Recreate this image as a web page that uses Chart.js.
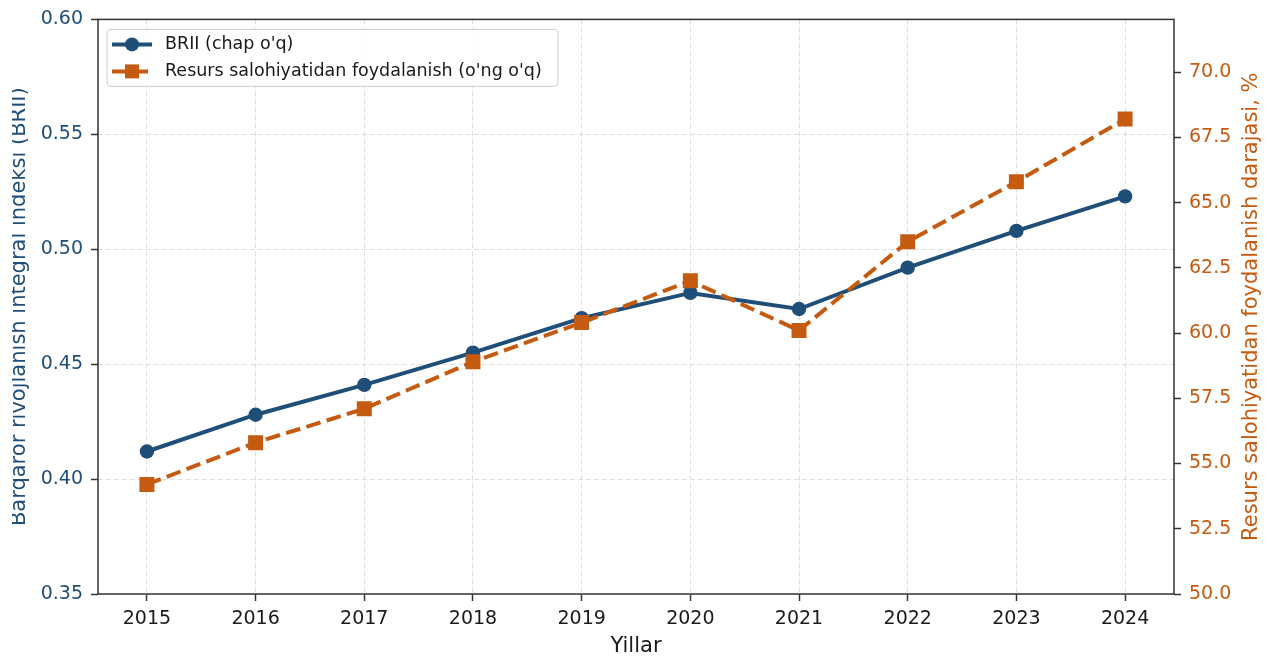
<!DOCTYPE html>
<html>
<head>
<meta charset="utf-8">
<script src="https://cdn.jsdelivr.net/npm/chart.js@4.4.1/dist/chart.umd.min.js"></script>
<style>
  body { margin: 0; background: #fff; }
  canvas { display: block; }
</style>
</head>
<body>
<canvas id="myChart" width="1268" height="657"></canvas>
<script>
// Datos
const years = [2015, 2016, 2017, 2018, 2019, 2020, 2021, 2022, 2023, 2024];
const brii = [0.412, 0.428, 0.441, 0.455, 0.470, 0.481, 0.474, 0.492, 0.508, 0.523];
const resurs = [54.2, 55.8, 57.1, 58.9, 60.4, 62.0, 60.1, 63.5, 65.8, 68.2];
const leftTicks = [0.35, 0.40, 0.45, 0.50, 0.55, 0.60];
const rightTicks = [50, 52.5, 55, 57.5, 60, 62.5, 65, 67.5, 70];

const labelBrii = "BRII (chap o'q)";
const labelResurs = "Resurs salohiyatidan foydalanish (o'ng o'q)";
const titleLeft = "Barqaror rivojlanish integral indeksi (BRII)";
const titleRight = "Resurs salohiyatidan foydalanish darajasi, %";

// Colores
const azul = "#1f4e79";
const naranja = "#c55a11";
const gris = "#dedede";
const oscuro = "#333333";
const guion = [14.8, 6.4];

Chart.defaults.font.family = "'DejaVu Sans', sans-serif";

// Marco del área del gráfico
const marcoPlugin = {
  id: "marco",
  afterDatasetsDraw(chart) {
    const { ctx, chartArea: a } = chart;
    ctx.save();
    ctx.strokeStyle = oscuro;
    ctx.lineWidth = 1.5;
    ctx.strokeRect(a.left, a.top, a.right - a.left, a.bottom - a.top);
    ctx.restore();
  },
};

// Títulos de los ejes Y (girados)
const titulosPlugin = {
  id: "titulos",
  afterDraw(chart) {
    const { ctx, chartArea: a } = chart;
    const cy = (a.top + a.bottom) / 2;
    ctx.save();
    ctx.font = "21px 'DejaVu Sans'";
    ctx.textAlign = "center";
    ctx.textBaseline = "alphabetic";

    ctx.save();
    ctx.beginPath();
    ctx.rect(12, 0, 60, chart.height);
    ctx.clip();
    ctx.translate(25, cy);
    ctx.rotate(-Math.PI / 2);
    ctx.fillStyle = azul;
    ctx.fillText(titleLeft, 0, 0);
    ctx.restore();

    ctx.translate(1257, cy);
    ctx.rotate(-Math.PI / 2);
    ctx.fillStyle = naranja;
    ctx.fillText(titleRight, 0, 0);
    ctx.restore();
  },
};

// Leyenda dentro del gráfico
const leyendaPlugin = {
  id: "leyenda",
  afterDraw(chart) {
    const { ctx, chartArea: a } = chart;
    const x = a.left + 9;
    const y = a.top + 10;
    const w = 451;
    const h = 57;
    ctx.save();
    ctx.beginPath();
    ctx.roundRect(x, y, w, h, 4);
    ctx.fillStyle = "rgba(255,255,255,0.85)";
    ctx.fill();
    ctx.strokeStyle = "#cccccc";
    ctx.lineWidth = 1;
    ctx.stroke();

    const items = [
      { label: labelBrii, color: azul, dash: [], tipo: "circle" },
      { label: labelResurs, color: naranja, dash: guion, tipo: "rect" },
    ];
    items.forEach((it, i) => {
      const cy = y + 15 + i * 27;
      ctx.strokeStyle = it.color;
      ctx.lineWidth = 4;
      ctx.setLineDash(it.dash);
      ctx.beginPath();
      ctx.moveTo(x + 5, cy);
      ctx.lineTo(x + 45, cy);
      ctx.stroke();
      ctx.setLineDash([]);
      ctx.fillStyle = it.color;
      if (it.tipo === "circle") {
        ctx.beginPath();
        ctx.arc(x + 25, cy, 7, 0, Math.PI * 2);
        ctx.fill();
      } else {
        ctx.fillRect(x + 25 - 7, cy - 7, 14, 14);
      }
      ctx.fillStyle = "#1a1a1a";
      ctx.font = "17.5px 'DejaVu Sans'";
      ctx.textBaseline = "middle";
      ctx.textAlign = "left";
      ctx.fillText(it.label, x + 58, cy);
    });
    ctx.restore();
  },
};

function crearData() {
  return {
    datasets: [
      {
        label: labelResurs,
        data: years.map((a, i) => ({ x: a, y: resurs[i] })),
        yAxisID: "y1",
        borderColor: naranja,
        backgroundColor: naranja,
        pointBackgroundColor: naranja,
        pointBorderColor: naranja,
        borderWidth: 4,
        borderDash: guion,
        pointStyle: "rect",
        pointRadius: 10.6,
        pointBorderWidth: 0,
        order: 0,
      },
      {
        label: labelBrii,
        data: years.map((a, i) => ({ x: a, y: brii[i] })),
        yAxisID: "y",
        borderColor: azul,
        backgroundColor: azul,
        pointBackgroundColor: azul,
        pointBorderColor: azul,
        borderWidth: 4,
        pointStyle: "circle",
        pointRadius: 7.2,
        pointBorderWidth: 0,
        order: 1,
      },
    ],
  };
}

const config = {
  type: "line",
  data: crearData(),
  plugins: [marcoPlugin, titulosPlugin, leyendaPlugin],
  options: {
    responsive: false,
    animation: false,
    devicePixelRatio: 1,
    layout: { padding: { top: 17, left: 0, right: 0, bottom: 0 } },
    plugins: { legend: { display: false }, tooltip: { enabled: false } },
    scales: {
      x: {
        type: "linear",
        min: 2014.55,
        max: 2024.45,
        afterBuildTicks: (s) => { s.ticks = years.map((v) => ({ value: v })); },
        afterFit: (s) => { s.height = 63; },
        ticks: {
          callback: (v) => String(v),
          color: "#1a1a1a",
          font: { size: 19 },
          padding: 7,
          maxRotation: 0,
          autoSkip: false,
        },
        grid: { color: gris, lineWidth: 1, tickColor: oscuro, tickLength: 7, tickWidth: 1.5 },
        border: { display: false, dash: [5, 3] },
        title: {
          display: true,
          text: "Yillar",
          color: "#1a1a1a",
          font: { size: 21, lineHeight: 1 },
          padding: { top: 0, bottom: 0 },
        },
      },
      y: {
        position: "left",
        min: 0.35,
        max: 0.6,
        afterBuildTicks: (s) => { s.ticks = leftTicks.map((v) => ({ value: v })); },
        afterFit: (s) => { s.width = 98; },
        ticks: {
          callback: (v) => v.toFixed(2),
          color: azul,
          font: { size: 19 },
          padding: 8,
        },
        grid: { color: gris, lineWidth: 1, tickColor: oscuro, tickLength: 7, tickWidth: 1.5 },
        border: { display: false, dash: [5, 3] },
      },
      y1: {
        position: "right",
        min: 50,
        max: 72.02,
        afterBuildTicks: (s) => { s.ticks = rightTicks.map((v) => ({ value: v })); },
        afterFit: (s) => { s.width = 94; },
        ticks: {
          callback: (v) => v.toFixed(1),
          color: naranja,
          font: { size: 19 },
          padding: 8,
        },
        grid: { drawOnChartArea: false, tickColor: oscuro, tickLength: 7, tickWidth: 1.5 },
        border: { display: false },
      },
    },
  },
};

const ctx = document.getElementById("myChart").getContext("2d");
new Chart(ctx, config);
</script>
</body>
</html>
